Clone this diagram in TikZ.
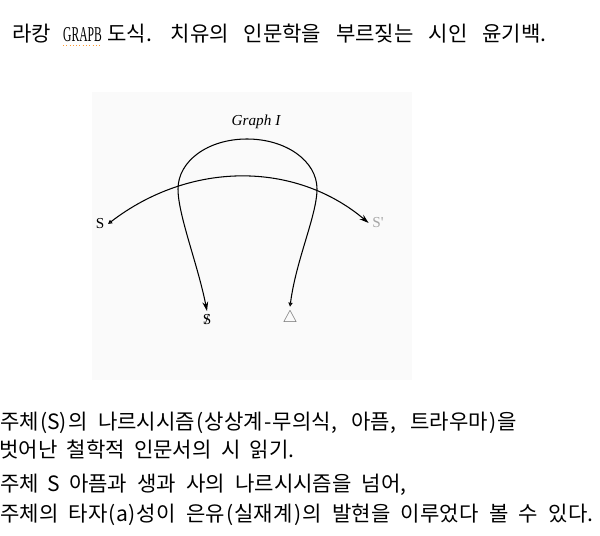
\documentclass[tikz,border=0pt]{standalone}
\usepackage{fontspec}
\usepackage{graphicx}
\setmainfont{Noto Sans CJK KR}
\newfontfamily\graphfont{Liberation Serif}
\usetikzlibrary{arrows.meta,positioning}
\newcommand{\korfont}{\fontsize{18}{22}\selectfont\spaceskip=0.46em plus 0.5em minus 0.2em\relax}
\tikzstyle{korline} = [anchor=base west, inner sep=0pt, font=\korfont]
\tikzstyle{sign} = [inner sep=3pt, font=\graphfont\fontsize{13}{15}\selectfont]
\tikzstyle{signline} = [draw, line width=0.9pt,
    {Triangle[open,length=3.5pt,width=3.5pt]}-{Stealth[length=8pt,width=5pt]}]
\tikzstyle{page} = [fill=black!2, draw=none]
\newcommand{\barredS}{\ooalign{S\cr\hidewidth/\hidewidth\cr}}
\newcommand{\fitline}[2]{\makebox[#1][s]{#2}}
\newcommand{\hw}[1]{\makebox[0.46em]{#1}}
\newcommand{\hwl}[1]{\makebox[0.46em][l]{#1}}
\newcommand{\lp}{\hw{(}}
\newcommand{\rp}{\hw{)}}

\begin{document}
\begin{tikzpicture}[x=0.03cm, y=-0.03cm]
\useasboundingbox (0,0) rectangle (600,535);
\path [page] (92,92) rectangle (412,380);
\node [korline] (lacan) at (12,42) {라캉};
\node [korline] (grapb) at (63,42) {\graphfont\scalebox{0.55}[1]{GRAPB}};
\node [korline] (rest) at (107,42) {\fitline{378.1pt}{도식\hwl{.} 치유의 인문학을 부르짖는 시인 윤기백\hwl{.}}};
\draw [orange!80, dotted, line width=0.8pt] ([yshift=-3pt]grapb.base west) -- ([yshift=-3pt]grapb.base east);
\node [sign, font=\graphfont\itshape\fontsize{13}{15}\selectfont] (graph) at (256,122) {Graph I};
\node [sign] (subj) at (100,224) {S};
\node [sign, text=black!35] (subjp) at (378,223) {S'};
\node [sign] (barred) at (207,320) {\barredS};
\node [sign, text=black!55, font=\fontsize{15}{17}\selectfont] (delta) at (290,318) {$\triangle$};
\path [signline] (subj.east) .. controls (190,161) and (295,161) .. (subjp.west);
\path [signline] (delta.north) .. controls (296,260) and (317,215) .. (317,189)
    .. controls (317,161) and (286,139) .. (247,139)
    .. controls (208,139) and (178,161) .. (178,189)
    .. controls (178,215) and (198,265) .. (barred.north);
\node [korline] (line1) at (0,429) {\fitline{441.3pt}{주체\lp\hw{S}\rp 의 나르시시즘\lp 상상계\hw{-}무의식\hwl{,} 아픔\hwl{,} 트라우마\rp 을}};
\node [korline] (line2) at (-1,457) {\fitline{255.2pt}{벗어난 철학적 인문서의 시 읽기\hwl{.}}};
\node [korline] (line3) at (0,491) {\fitline{350pt}{주체 \hw{S} 아픔과 생과 사의 나르시시즘을 넘어\hwl{,}}};
\node [korline] (line4) at (0,521) {\fitline{509.6pt}{주체의 타자\lp\hw{a}\rp 성이 은유\lp 실재계\rp 의 발현을 이루었다 볼 수 있다\hwl{.}}};
\end{tikzpicture}
\end{document}
